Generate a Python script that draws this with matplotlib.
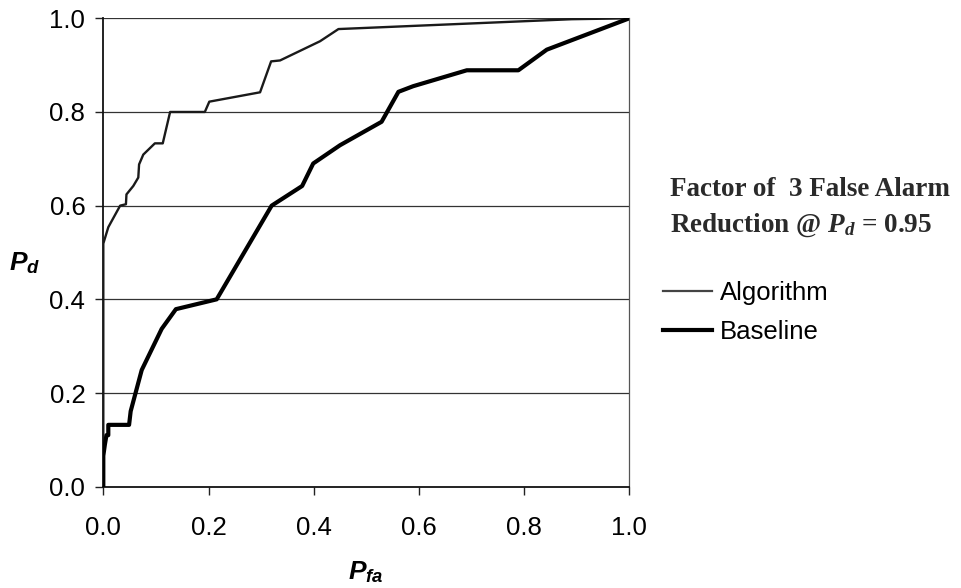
import matplotlib
matplotlib.use("Agg")
import matplotlib.pyplot as plt
from matplotlib.lines import Line2D

plt.rcParams['font.family'] = ['Liberation Sans', 'DejaVu Sans']
plt.rcParams['mathtext.fontset'] = 'custom'
plt.rcParams['mathtext.it'] = 'Liberation Serif:italic:bold'
plt.rcParams['mathtext.rm'] = 'Liberation Serif:bold'
plt.rcParams['mathtext.bfit'] = 'Liberation Sans:bold:italic'
plt.rcParams['mathtext.bf'] = 'Liberation Sans:bold'

# Data
alg_pfa = [0.0, 0.0, 0.0095, 0.032, 0.043, 0.044, 0.057, 0.0665, 0.068, 0.076,
           0.098, 0.113, 0.127, 0.193, 0.2015, 0.298, 0.319, 0.336, 0.412, 0.447,
           0.89, 1.0]
alg_pd = [0.0, 0.519, 0.554, 0.60, 0.603, 0.624, 0.642, 0.66, 0.688, 0.709,
          0.733, 0.733, 0.80, 0.80, 0.822, 0.842, 0.908, 0.910, 0.951, 0.977,
          0.998, 1.0]

base_pfa = [0.0, 0.0, 0.003, 0.006, 0.0095, 0.0095, 0.049, 0.052, 0.073, 0.111,
            0.138, 0.2155, 0.320, 0.378, 0.399, 0.45, 0.529, 0.561, 0.589, 0.691,
            0.789, 0.843, 1.0]
base_pd = [0.0, 0.066, 0.09, 0.11, 0.11, 0.132, 0.132, 0.161, 0.249, 0.337,
           0.379, 0.40, 0.60, 0.642, 0.69, 0.729, 0.779, 0.843, 0.855, 0.889,
           0.889, 0.933, 1.0]

ticks = [0.0, 0.2, 0.4, 0.6, 0.8, 1.0]
tick_labels = ["0.0", "0.2", "0.4", "0.6", "0.8", "1.0"]
series_names = ["Algorithm", "Baseline"]

fig = plt.figure(figsize=(9.61, 5.88), dpi=100)
ax = fig.add_axes([0.1075, 0.1723, 0.5474, 0.7966])

for y in ticks[1:]:
    ax.axhline(y, color='#333333', lw=0.9, zorder=1)

l1, = ax.plot(alg_pfa, alg_pd, color='#1a1a1a', lw=1.7, zorder=3)
l2, = ax.plot(base_pfa, base_pd, color='#000000', lw=3.0, zorder=3)

ax.set_xlim(0, 1)
ax.set_ylim(0, 1)
ax.set_xticks(ticks)
ax.set_xticklabels(tick_labels)
ax.set_yticks(ticks)
ax.set_yticklabels(tick_labels)
ax.tick_params(axis='both', direction='out', length=6, width=1, labelsize=18.5,
               color='#222222')
ax.tick_params(axis='x', pad=15)
ax.tick_params(axis='y', pad=7)

for s in ['left', 'bottom']:
    ax.spines[s].set_color('#111111')
    ax.spines[s].set_linewidth(1.3)
ax.spines['top'].set_visible(False)
ax.spines['right'].set_color('#555555')
ax.spines['right'].set_linewidth(0.9)
ax.spines['right'].set_linestyle((0, (2, 1)))

fig.text(0.026, 0.552, r"$\mathbfit{P}_{\mathbfit{d}}$", fontsize=19,
         ha='center', va='center')
fig.text(0.381, 0.027, r"$\mathbfit{P}_{\mathbfit{fa}}$", fontsize=19,
         ha='center', va='center')

fig.text(0.697, 0.677, "Factor of  3 False Alarm", fontsize=19.5,
         family='Liberation Serif', weight='bold', color='#2a2a2a',
         ha='left', va='center')
fig.text(0.697, 0.617, r"Reduction @ $P_d$ = 0.95", fontsize=19.5,
         family='Liberation Serif', weight='bold', color='#2a2a2a',
         ha='left', va='center')

handles = [Line2D([], [], color='#444444', lw=1.6),
           Line2D([], [], color='#000000', lw=3.0)]
leg = fig.legend(handles, series_names, loc='upper left',
                 bbox_to_anchor=(0.690, 0.522), frameon=False, fontsize=18.5,
                 handlelength=1.9, handletextpad=0.3, labelspacing=0.6,
                 borderaxespad=0, borderpad=0)

fig.savefig("out.png", dpi=100)
